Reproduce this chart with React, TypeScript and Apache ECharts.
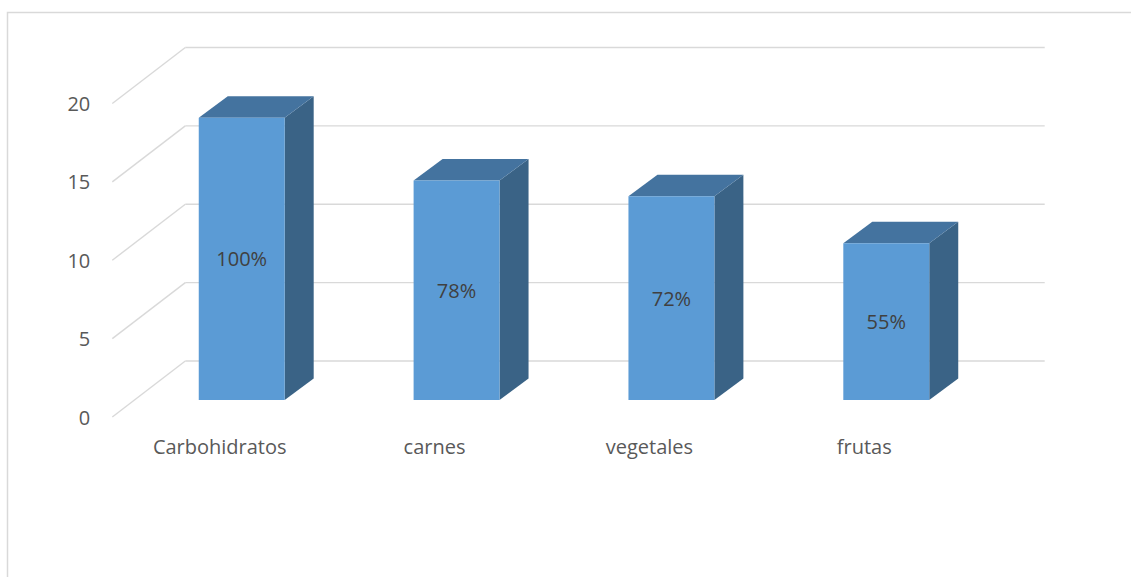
import React, { useEffect, useRef } from "react";
import * as echarts from "echarts";

const categories = ["Carbohidratos", "carnes", "vegetales", "frutas"];
const values = [18, 14, 13, 10];
const barLabels = ["100%", "78%", "72%", "55%"];
const yTicks = [0, 5, 10, 15, 20];

const FONT = "'Open Sans', 'Noto Sans', sans-serif";

export default function App() {
  const ref = useRef<HTMLDivElement>(null);
  useEffect(() => {
    if (!ref.current) return;
    const chart = echarts.init(ref.current, null, { renderer: "svg" });
    // depth offsets relative to the bar-front plane
    const BAR_DX = 29, BAR_DY = -21.5;
    const BACK_DX = 51, BACK_DY = -39;
    const FRONT_DX = -22, FRONT_DY = 17;
    chart.setOption({
      animation: false,
      backgroundColor: "#ffffff",
      graphic: [
        {
          type: "rect",
          shape: { x: 7.5, y: 12.5, width: 1140, height: 620 },
          style: { fill: "none", stroke: "#d9d9d9", lineWidth: 1.5 },
          silent: true,
        },
      ],
      grid: { left: 134.3, right: 137.3, top: 86.5, bottom: 177 },
      xAxis: {
        type: "category",
        data: categories,
        axisLine: { show: false },
        axisTick: { show: false },
        splitLine: { show: false },
        axisLabel: {
          color: "#595959",
          fontFamily: FONT,
          fontSize: 20,
          margin: 36,
          padding: [0, 44, 0, 0],
          align: "center",
        },
      },
      yAxis: {
        type: "value",
        min: 0,
        max: 20,
        interval: 5,
        axisLine: { show: false },
        axisTick: { show: false },
        splitLine: { show: false },
        axisLabel: { show: false },
      },
      series: [
        {
          type: "custom",
          name: "walls",
          silent: true,
          z: 1,
          data: yTicks.map((t) => [0, t]),
          renderItem: (params: any, api: any) => {
            const cs = params.coordSys;
            const t = api.value(1);
            const y = api.coord([0, t])[1];
            const lineStyle = { stroke: "#d9d9d9", lineWidth: 1.4, fill: "none" };
            return {
              type: "group",
              children: [
                {
                  type: "line",
                  shape: {
                    x1: cs.x + BACK_DX,
                    y1: y + BACK_DY,
                    x2: cs.x + cs.width + BACK_DX,
                    y2: y + BACK_DY,
                  },
                  style: lineStyle,
                },
                {
                  type: "line",
                  shape: {
                    x1: cs.x + FRONT_DX,
                    y1: y + FRONT_DY,
                    x2: cs.x + BACK_DX,
                    y2: y + BACK_DY,
                  },
                  style: lineStyle,
                },
                {
                  type: "text",
                  x: cs.x + FRONT_DX - 22,
                  y: y + FRONT_DY,
                  style: {
                    text: String(t),
                    fill: "#595959",
                    fontFamily: FONT,
                    fontSize: 20,
                    align: "right",
                    verticalAlign: "middle",
                  },
                },
              ],
            };
          },
        },
        {
          type: "custom",
          name: "bars",
          z: 2,
          data: values.map((v, i) => [i, v]),
          renderItem: (params: any, api: any) => {
            const idx = api.value(0);
            const v = api.value(1);
            const base = api.coord([idx, 0]);
            const top = api.coord([idx, v]);
            const bw = api.size([1, 0])[0] * 0.4;
            const x0 = base[0] - bw / 2;
            const x1 = base[0] + bw / 2;
            const yt = top[1];
            const yb = base[1];
            return {
              type: "group",
              children: [
                {
                  type: "polygon",
                  shape: {
                    points: [
                      [x1, yt],
                      [x1 + BAR_DX, yt + BAR_DY],
                      [x1 + BAR_DX, yb + BAR_DY],
                      [x1, yb],
                    ],
                  },
                  style: { fill: "#3a6386" },
                },
                {
                  type: "polygon",
                  shape: {
                    points: [
                      [x0, yt],
                      [x1, yt],
                      [x1 + BAR_DX, yt + BAR_DY],
                      [x0 + BAR_DX, yt + BAR_DY],
                    ],
                  },
                  style: { fill: "#44739f" },
                },
                {
                  type: "rect",
                  shape: { x: x0, y: yt, width: bw, height: yb - yt },
                  style: { fill: "#5b9bd5" },
                  textContent: {
                    style: {
                      text: barLabels[params.dataIndex],
                      fill: "#404040",
                      fontFamily: FONT,
                      fontSize: 20,
                    },
                  },
                  textConfig: { position: "inside" },
                },
              ],
            };
          },
        },
      ],
    });
    return () => chart.dispose();
  }, []);
  return (
    <div
      ref={ref}
      style={{ position: "fixed", left: 0, top: 0, width: 1131, height: 577 }}
    />
  );
}
